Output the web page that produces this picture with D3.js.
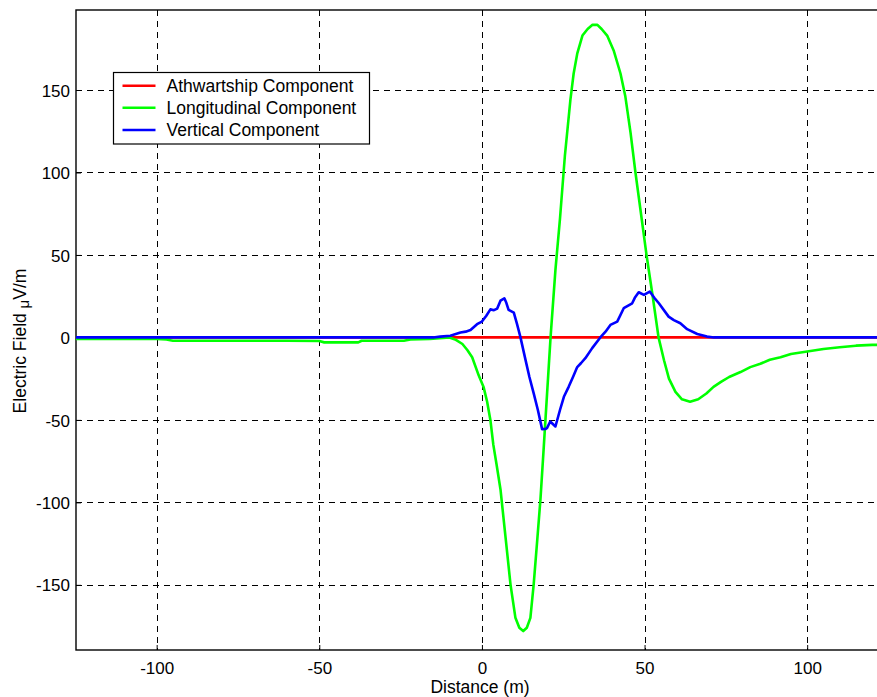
<!DOCTYPE html>
<html>
<head>
<meta charset="utf-8">
<script src="https://cdn.jsdelivr.net/npm/d3@7"></script>
<style>
  body { margin: 0; background: #fff; }
  svg { display: block; }
  text { font-family: "Liberation Sans", Arial, Helvetica, sans-serif; fill: #000; }
</style>
</head>
<body>
<svg id="chart" width="877" height="697"></svg>
<script>
// ---------- data ----------
const xTicks = [-100, -50, 0, 50, 100];
const yTicks = [-150, -100, -50, 0, 50, 100, 150];

const seriesNames = ["Athwartship Component", "Longitudinal Component", "Vertical Component"];
const seriesColors = ["#ff0000", "#00ff00", "#0000ff"];

const athX = [-125, -60, 0, 60, 125];
const athY = [0, 0, 0, 0, 0];

const longX = [-125, -100, -97, -95, -60, -50, -48.5, -38, -37, -24, -22, -16, -13, -10, -8, -6, -4.5, -3, -1, 0.5, 1.6, 2.6, 3.5, 4.5, 5.7, 7.2, 8.8, 10.3, 11.5, 12.7, 13.8, 14.9, 15.9, 17, 18, 18.9, 20, 21.1, 22.6, 24, 25.5, 27.2, 28.2, 29.3, 30.9, 32.5, 34, 35.5, 36.8, 38.5, 40.5, 42.6, 44.1, 45.7, 47.2, 48.7, 50.6, 52.5, 54.3, 56, 57.5, 59.5, 61.5, 64, 66.5, 69, 71.2, 73.5, 76, 79.5, 82.5, 85.6, 88.5, 91.8, 95, 100, 105, 110, 115, 120, 125];
const longY = [-1, -1, -1.2, -2, -2, -2.2, -3, -3, -2, -2, -1.2, -1, -0.5, 0, -1.5, -4, -7.6, -12, -23, -30, -39, -50, -65, -77, -92, -120, -150, -170, -176, -178, -176, -170, -150, -123, -98, -70, -35, 0, 41, 72, 110, 144, 160, 172, 183, 187, 189.5, 189.5, 187, 183, 174, 160, 146, 124, 100, 78, 50, 25, 0, -14, -25, -33, -37.5, -39, -37.5, -34, -30, -27, -24, -21, -18, -16, -13.5, -12, -10, -8.5, -7, -6, -5, -4.5, -4.5];

const vertX = [-125, -15, -12.8, -9.7, -6.6, -5, -3.5, -1.5, 0, 1.3, 2.6, 3.7, 4.7, 5.7, 6.9, 7.5, 8.2, 9.8, 10.8, 11.8, 13.4, 14.6, 15.9, 17.2, 18.5, 19.5, 20, 21, 22.6, 24, 25.2, 26.7, 28, 29.3, 30.5, 31.8, 33.9, 36.4, 38, 39.5, 41.6, 43.6, 46.2, 47, 48.2, 49.8, 51.6, 53, 54.4, 57.4, 59, 61, 63.1, 66.2, 69.2, 71.3, 125];
const vertY = [0, 0, 0.5, 1, 3, 3.5, 4.5, 8, 9.6, 13, 17, 16.5, 17.5, 22.3, 23.7, 21, 16.7, 15, 8, 0.5, -13.6, -24, -33.8, -44, -55.6, -55.5, -55, -51, -54, -44, -36, -29.8, -24, -18, -15.5, -12.6, -6.5, 0, 3.5, 7.6, 9.6, 17.7, 20.7, 24, 27.4, 25.8, 27.8, 24, 20.7, 12.6, 10.5, 8.6, 5, 2.1, 0.5, 0, 0];

// ---------- layout ----------
const plot = { left: 76, top: 10, right: 888.5, bottom: 650 };
const x = d3.scaleLinear().domain([-124.8, 125]).range([plot.left, plot.right]);
const y = d3.scaleLinear().domain([-189.5, 198.5]).range([plot.bottom, plot.top]);

const svg = d3.select("#chart");

// grid
const grid = svg.append("g").attr("shape-rendering", "crispEdges");
grid.selectAll("line.vx").data(xTicks).enter().append("line")
  .attr("x1", d => Math.round(x(d)) + 0.5).attr("x2", d => Math.round(x(d)) + 0.5)
  .attr("y1", plot.top).attr("y2", plot.bottom)
  .attr("stroke", "#000").attr("stroke-width", 1).attr("stroke-dasharray", "6,5");
grid.selectAll("line.hy").data(yTicks).enter().append("line")
  .attr("y1", d => Math.round(y(d)) + 0.5).attr("y2", d => Math.round(y(d)) + 0.5)
  .attr("x1", plot.left).attr("x2", plot.right)
  .attr("stroke", "#000").attr("stroke-width", 1).attr("stroke-dasharray", "6,5");

// axes (inward ticks)
const fmt = d => String(d);
const xAxisB = d3.axisBottom(x).tickValues(xTicks).tickSize(-5).tickPadding(12).tickFormat(fmt);
const yAxisL = d3.axisLeft(y).tickValues(yTicks).tickSize(-5).tickPadding(6).tickFormat(fmt);

const gx = svg.append("g").attr("transform", `translate(0,${plot.bottom})`).call(xAxisB);
const gy = svg.append("g").attr("transform", `translate(${plot.left},0)`).call(yAxisL);
[gx, gy].forEach(g => {
  g.select(".domain").remove();
  g.selectAll(".tick line").attr("stroke", "#000");
  g.selectAll(".tick text").attr("font-size", "17px").attr("font-family", '"Liberation Sans", Arial, sans-serif').attr("fill", "#000");
});
gx.selectAll(".tick text").attr("dy", "0.71em");
gy.selectAll(".tick text").attr("dy", "0.36em");

// frame
svg.append("rect")
  .attr("x", plot.left).attr("y", plot.top)
  .attr("width", plot.right - plot.left).attr("height", plot.bottom - plot.top)
  .attr("fill", "none").attr("stroke", "#000").attr("stroke-width", 1.4);

// lines
const line = d3.line().x(d => x(d[0])).y(d => y(d[1]));
const seriesData = [
  d3.zip(athX, athY),
  d3.zip(longX, longY),
  d3.zip(vertX, vertY)
];
const clipId = "plotclip";
svg.append("clipPath").attr("id", clipId).append("rect")
  .attr("x", plot.left).attr("y", plot.top)
  .attr("width", plot.right - plot.left).attr("height", plot.bottom - plot.top);
svg.append("g").attr("clip-path", `url(#${clipId})`)
  .selectAll("path").data(seriesData).enter().append("path")
  .attr("d", line)
  .attr("fill", "none")
  .attr("stroke", (d, i) => seriesColors[i])
  .attr("stroke-width", 2.6)
  .attr("stroke-linejoin", "round");

// legend
const lg = svg.append("g");
lg.append("rect").attr("x", 113.5).attr("y", 72.5).attr("width", 256).attr("height", 71.5)
  .attr("fill", "#fff").attr("stroke", "#000").attr("stroke-width", 1.2);
const rowsY = [85.7, 107.7, 130];
seriesNames.forEach((name, i) => {
  lg.append("line").attr("x1", 122.5).attr("x2", 155.5)
    .attr("y1", rowsY[i]).attr("y2", rowsY[i])
    .attr("stroke", seriesColors[i]).attr("stroke-width", 2.6);
  lg.append("text").attr("x", 166.5).attr("y", rowsY[i] + 6)
    .attr("font-size", "17.5px").text(name);
});

// axis labels
svg.append("text").attr("x", 480).attr("y", 693).attr("text-anchor", "middle")
  .attr("font-size", "17.5px").text("Distance (m)");
const yl = svg.append("text").attr("transform", "translate(26,341) rotate(-90)")
  .attr("text-anchor", "middle").attr("font-size", "17.5px");
yl.append("tspan").text("Electric Field ");
yl.append("tspan").attr("dy", "3").attr("font-size", "15px").text("μ");
yl.append("tspan").attr("dy", "-3").text("V/m");
</script>
</body>
</html>
